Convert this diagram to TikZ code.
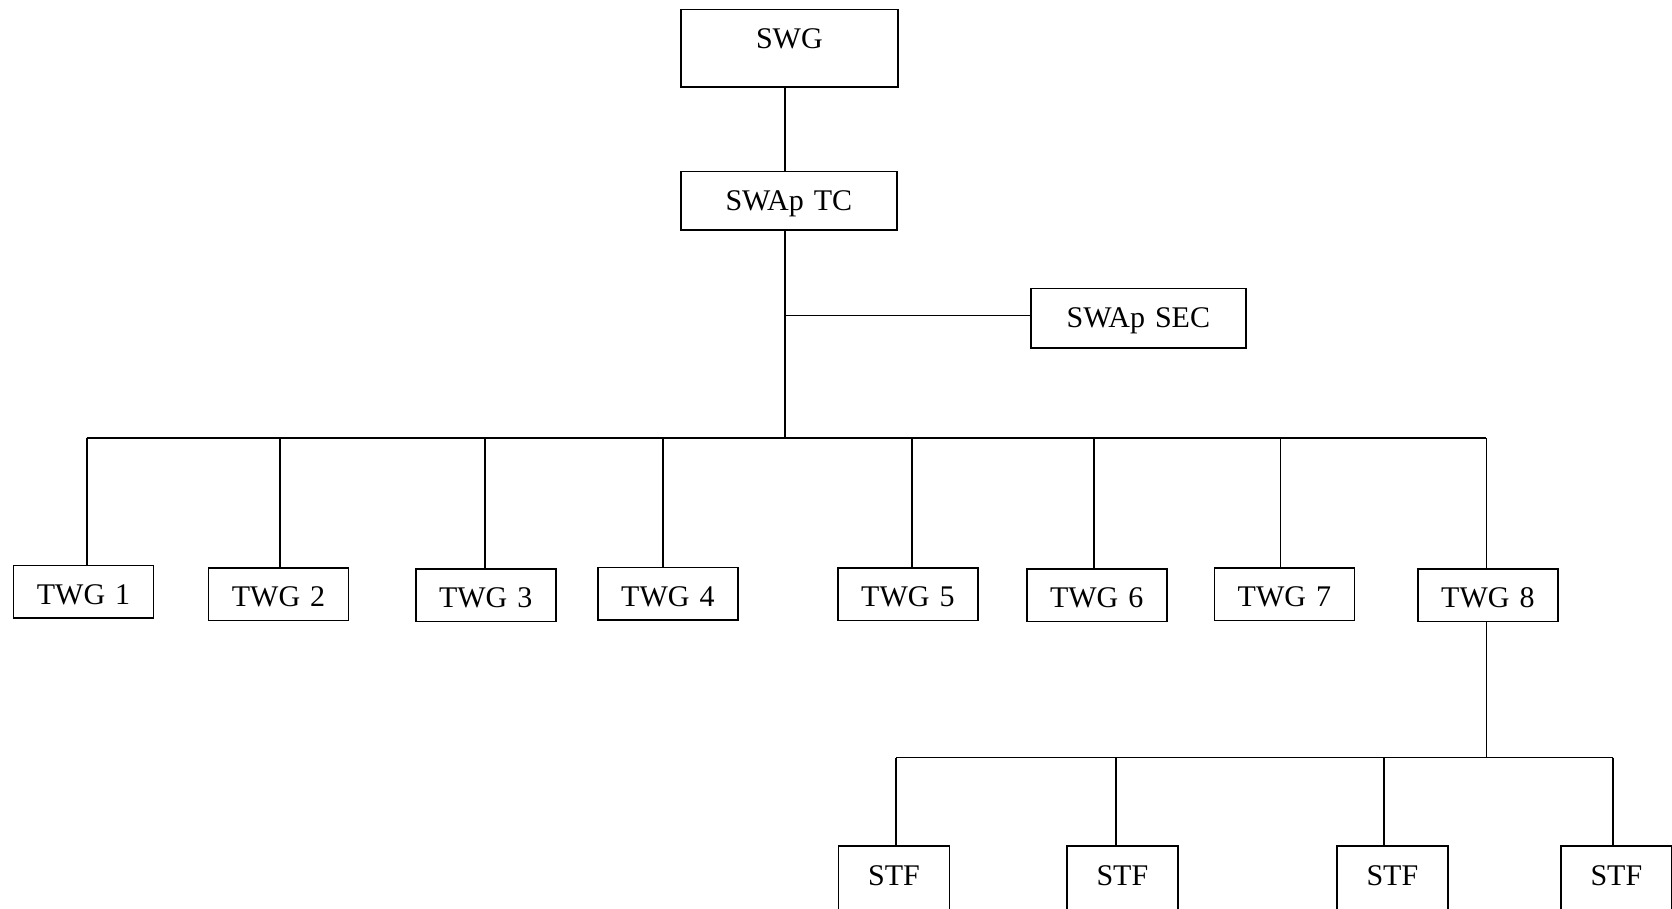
\documentclass[tikz,border=0pt]{standalone}
\usepackage{fontspec}
\setmainfont{Liberation Serif}
\begin{document}
\begin{tikzpicture}[x=1pt,y=-1pt,
  line width=1.7pt,
  box/.style={draw, rectangle, inner xsep=0pt, inner ysep=0pt, anchor=north west,
    font=\fontsize{30}{36}\selectfont, text height=39pt},
  conn/.style={draw, line width=1.7pt}
]
\useasboundingbox (0,0) rectangle (1672,908);
\clip (0,0) rectangle (1672,908);
% top
\node[box, minimum width=217pt, text depth=38.5pt, text width=217pt, align=center] (swg) at (680,8.5) {SWG};
\node[box, minimum width=216pt, text depth=19.5pt, text width=216pt, align=center] (tc) at (680,170.5) {SWAp TC};
\node[box, minimum width=215pt, text depth=20.5pt, text width=215pt, align=center] (sec) at (1030,287.5) {SWAp SEC};
% TWG boxes
\tikzset{twg/.style={box, minimum width=140pt, text width=140pt, align=center, text depth=13.5pt}}
\node[twg] (t1) at (12.7,564.5) {TWG 1};
\node[twg] (t2) at (207.7,567) {TWG 2};
\node[twg] (t3) at (414.8,568) {TWG 3};
\node[twg] (t4) at (597,566.5) {TWG 4};
\node[twg] (t5) at (837,567) {TWG 5};
\node[twg] (t6) at (1025.8,568) {TWG 6};
\node[twg] (t7) at (1213.5,567) {TWG 7};
\node[twg] (t8) at (1417,568) {TWG 8};
% STF boxes
\tikzset{stf/.style={box, minimum width=111pt, text width=111pt, align=center, text depth=60pt}}
\node[stf] (s1) at (837.7,845.3) {STF};
\node[stf] (s2) at (1066,845.3) {STF};
\node[stf] (s3) at (1336,845.3) {STF};
\node[stf] (s4) at (1560,845.3) {STF};
% coordinates
\coordinate (trunk) at (785.3,438.3);
\coordinate (secj) at (785.3,315.6);
\coordinate (b1) at (86.7,438.3);
\coordinate (b2) at (280.3,438.3);
\coordinate (b3) at (485.2,438.3);
\coordinate (b4) at (663.2,438.3);
\coordinate (b5) at (911.7,438.3);
\coordinate (b6) at (1094,438.3);
\coordinate (b7) at (1280.6,438.3);
\coordinate (b8) at (1486.4,438.3);
\coordinate (sj) at (1486.4,757.5);
\coordinate (c1) at (896,757.5);
\coordinate (c2) at (1116,757.5);
\coordinate (c3) at (1384,757.5);
\coordinate (c4) at (1613,757.5);
% connectors
\draw[conn] (swg.south -| trunk) -- (tc.north -| trunk);
\draw[conn] (tc.south -| trunk) -- (trunk);
\draw[conn] (secj) -- (sec.west |- secj);
\draw[conn] (b1) -- (b8);
\foreach \i in {1,...,8} {\draw[conn] (b\i) -- (t\i.north -| b\i);}
\draw[conn] (t8.south -| sj) -- (sj);
\draw[conn] (c1) -- (c4);
\foreach \i in {1,...,4} {\draw[conn] (c\i) -- (s\i.north -| c\i);}
\end{tikzpicture}
\end{document}
